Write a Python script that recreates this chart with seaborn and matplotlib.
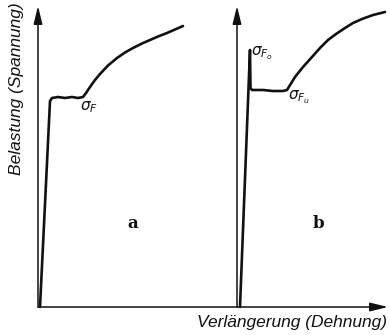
import matplotlib
matplotlib.use("Agg")
import matplotlib.pyplot as plt
import seaborn as sns
import pandas as pd

sns.set_theme(style="white")
plt.rcParams["font.family"] = ["Liberation Sans", "DejaVu Sans"]
plt.rcParams["mathtext.fontset"] = "dejavusans"

# Curve a: steel with a flat yield plateau (strain, stress in drawing units)
strain_a = [2, 12, 14, 20, 27, 34, 40, 45, 48, 52, 57, 62, 70, 79, 87, 95, 104, 112, 120, 129, 137, 145]
stress_a = [0, 206, 209, 210, 209, 210, 209, 210, 214, 220, 227, 233, 241.5, 249, 254.5, 259,
            263.5, 267, 270.5, 274, 277.5, 281]

# Curve b: upper and lower yield point
strain_b = [2, 12, 12.5, 14, 25, 35, 45, 49, 57, 65, 74, 82, 90, 98, 107, 115, 124, 135, 147]
stress_b = [0, 257, 219, 217, 217, 216, 216, 217, 230, 240, 250, 259, 267, 273, 279, 284, 288,
            292, 295]

panel_letters = ["a", "b"]
yield_labels = [r"$\sigma_F$", r"$\sigma_{F_o}$", r"$\sigma_{F_u}$"]
x_label = "Verlängerung (Dehnung)"
y_label = "Belastung (Spannung)"

panel_b_offset = 200  # horizontal shift of the second diagram
ink = "#111111"

fig = plt.figure(figsize=(3.9, 3.35), dpi=100)
ax = fig.add_axes([0, 0, 1, 1])
ax.set_xlim(-38, 352)
ax.set_ylim(-28, 307)
ax.axis("off")

df_a = pd.DataFrame({"strain": strain_a, "stress": stress_a})
df_b = pd.DataFrame({"strain": [s + panel_b_offset for s in strain_b], "stress": stress_b})
for df in (df_a, df_b):
    sns.lineplot(data=df, x="strain", y="stress", ax=ax, sort=False, estimator=None,
                 color=ink, lw=1.9, solid_joinstyle="round", solid_capstyle="round")

arrow = dict(arrowstyle="-|>,head_length=0.9,head_width=0.22", color=ink, lw=1.1,
             shrinkA=0, shrinkB=0)
# vertical axes of both diagrams
for x0 in (0, panel_b_offset - 1):
    ax.annotate("", xy=(x0, 301), xytext=(x0, 0), arrowprops=arrow)
# common horizontal axis
ax.annotate("", xy=(350, 0), xytext=(0, 0), arrowprops=arrow)

# yield point labels
ax.text(strain_a[4] + 15, stress_a[4] - 1, yield_labels[0], ha="left", va="top",
        fontsize=11, color=ink)
ax.text(strain_b[1] + panel_b_offset + 1, stress_b[1] + 6, yield_labels[1], ha="left", va="top",
        fontsize=11, color=ink)
ax.text(strain_b[7] + panel_b_offset + 1, stress_b[7] + 2, yield_labels[2], ha="left", va="top",
        fontsize=11, color=ink)

# panel letters
for letter, xpos in zip(panel_letters, (95, 280)):
    ax.text(xpos, 83, letter, ha="center", va="center", fontsize=12,
            fontweight="bold", family="DejaVu Serif", color=ink)

# axis titles
ax.text(349, -16, x_label, ha="right", va="center", fontsize=12.5,
        style="italic", color=ink)
ax.text(-21, 218, y_label, ha="center", va="center", rotation=90, fontsize=12.5,
        style="italic", color=ink)

fig.savefig("out.png", dpi=100, facecolor="white")
